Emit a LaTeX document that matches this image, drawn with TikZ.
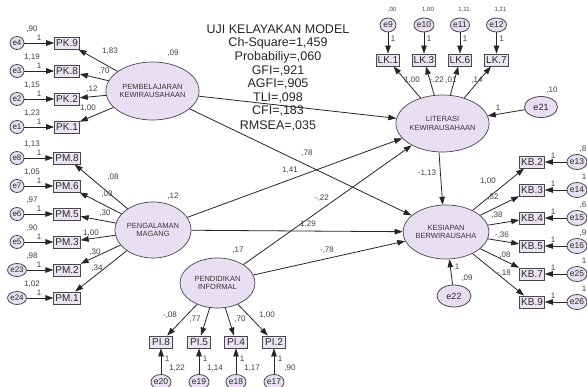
\documentclass[tikz,border=0pt]{standalone}
\usepackage{fontspec}
\setmainfont{Liberation Sans}
\usetikzlibrary{shapes.geometric,arrows.meta}
\definecolor{latfill}{RGB}{232,224,242}
\definecolor{obsfill}{RGB}{236,228,242}
\definecolor{edgecol}{RGB}{70,70,80}
\begin{document}
\begin{tikzpicture}[x=1pt,y=-1pt,
 lat/.style={ellipse, draw=edgecol, fill=latfill, line width=0.7pt, inner sep=0pt, align=center, font=\fontsize{7.5}{8.5}\selectfont, text=black!80},
 obs/.style={rectangle, draw=edgecol, fill=obsfill, line width=0.9pt, minimum width=23pt, minimum height=12pt, inner xsep=1.5pt, inner ysep=0pt, font=\fontsize{10}{10}\selectfont, text=black!85},
 err/.style={ellipse, draw=edgecol, fill=latfill, line width=0.8pt, inner sep=0pt, font=\fontsize{8.5}{9}\selectfont, text=black!85},
 lbl/.style={font=\fontsize{8}{8}\selectfont, text=black!75, inner sep=0pt},
 arr/.style={-{Triangle[length=8pt,width=5.5pt]}, line width=0.8pt, draw=black!85},
 stat/.style={font=\fontsize{12.5}{13}\selectfont, text=black!85, inner sep=0pt}
]
\useasboundingbox (0,0) rectangle (587,387);
\fill[white] (0,0) rectangle (587,387);
\clip (0,0) rectangle (587,387);

% statistics
\node[stat] (s1) at (278,29) {UJI KELAYAKAN MODEL};
\node[stat] (s2) at (278,43) {Ch-Square=1,459};
\node[stat] (s3) at (278,57) {Probabiliy=,060};
\node[stat] (s4) at (278,71) {GFI=,921};
\node[stat] (s5) at (278,84) {AGFI=,905};
\node[stat] (s6) at (278,98) {TLI=,098};
\node[stat] (s7) at (278,111) {CFI=,183};
\node[stat] (s8) at (278,126) {RMSEA=,035};

% latent variables
\node[lat, minimum width=75pt, minimum height=58pt] (PEMB) at (152.5,91) {PEMBELAJARAN\\KEWIRAUSAHAAN};
\node[lat, minimum width=76pt, minimum height=56pt] (PENG) at (153,230) {PENGALAMAN\\MAGANG};
\node[lat, minimum width=75pt, minimum height=50pt] (PEND) at (217.5,283) {PENDIDIKAN\\INFORMAL};
\node[lat, minimum width=75pt, minimum height=57pt] (LIT) at (442.5,123.5) {LITERASI\\KEWIRAUSAHAAN};
\node[lat, minimum width=76pt, minimum height=54pt] (KES) at (446,232) {KESIAPAN\\BERWIRAUSAHA};
\node[err, minimum width=33pt, minimum height=21pt, font=\fontsize{9}{9}\selectfont] (e21) at (541,107) {e21};
\node[err, minimum width=34pt, minimum height=22pt, font=\fontsize{9}{9}\selectfont] (e22) at (454,296) {e22};

\node[lbl] at (173,53) {,09};
\node[lbl] at (173,196) {,12};
\node[lbl] at (238,250) {,17};
\node[lbl] at (552,90) {,10};
\node[lbl] at (498,108) {1};
\node[lbl] at (467,278) {,09};
\node[lbl] at (457,267) {1};

% PK indicators
\foreach \n/\t/\e/\y/\v in {PK9/PK.9/e4/43/{,90},PK8/PK.8/e3/71/{1,19},PK2/PK.2/e2/99/{1,15},PK1/PK.1/e1/127/{1,23}}{
  \node[obs] (\n) at (67,\y) {\t};
  \node[err, minimum width=14pt, minimum height=13pt, font=\fontsize{8}{8}\selectfont] (\e) at (17,\y) {\e};
  \draw[arr] (\e) -- (\n);
  \draw[arr] (PEMB) -- (\n);
  \node[lbl] at (39,\y-5) {1};
  \node[lbl] at (32,\y-14) {\v};
}
\node[lbl] at (110,51) {1,83};
\node[lbl] at (104,71) {,70};
\node[lbl] at (92,89) {,12};
\node[lbl] at (88,108) {1,00};

% PM indicators
\foreach \n/\t/\e/\y/\v in {PM8/PM.8/e8/158/{1,13},PM6/PM.6/e7/186/{1,05},PM5/PM.5/e6/214/{,97},PM3/PM.3/e5/242/{,90},PM2/PM.2/e23/270/{,98},PM1/PM.1/e24/298/{1,02}}{
  \node[obs] (\n) at (67,\y) {\t};
  \node[err, minimum width=14pt, minimum height=13pt, font=\fontsize{8}{8}\selectfont] (\e) at (17,\y) {\e};
  \draw[arr] (\e) -- (\n);
  \draw[arr] (PENG) -- (\n);
  \node[lbl] at (39,\y-5) {1};
  \node[lbl] at (32,\y-14) {\v};
}
\node[lbl] at (113,177) {,08};
\node[lbl] at (107,194) {,03};
\node[lbl] at (105,213) {,30};
\node[lbl] at (91,233) {1,00};
\node[lbl] at (95,252) {,30};
\node[lbl] at (97,268) {,34};

% PI indicators
\foreach \n/\t/\e/\x/\v in {PI8/PI.8/e20/161/{1,22},PI5/PI.5/e19/199/{1,14},PI4/PI.4/e18/236/{1,17},PI2/PI.2/e17/274/{,90}}{
  \node[obs] (\n) at (\x,342) {\t};
  \node[err, minimum width=17pt, minimum height=15pt] (\e) at (\x,382) {\e};
  \draw[arr] (\e) -- (\n);
  \draw[arr] (PEND) -- (\n);
  \node[lbl] at (\x+6,359) {1};
  \node[lbl] at (\x+16,368) {\v};
}
\node[lbl] at (170,315) {-,08};
\node[lbl] at (195,319) {,77};
\node[lbl] at (240,319) {,70};
\node[lbl] at (267,315) {1,00};

% LK indicators
\foreach \n/\t/\e/\x/\v in {LK1/LK.1/e9/388/{,00},LK3/LK.3/e10/424/{1,00},LK6/LK.6/e11/460/{1,11},LK7/LK.7/e12/496.5/{1,21}}{
  \node[obs] (\n) at (\x,60) {\t};
  \node[err, minimum width=16pt, minimum height=14pt] (\e) at (\x,25) {\e};
  \draw[arr] (\e) -- (\n);
  \draw[arr] (LIT) -- (\n);
  \node[lbl] at (\x+5,39) {1};
  \node[lbl, font=\fontsize{6}{6}\selectfont] at (\x+4,9.5) {\v};
}
\node[lbl] at (412,80) {1,00};
\node[lbl] at (437,80) {-,22};
\node[lbl] at (451,80) {,01};
\node[lbl] at (477,80) {,14};

% KB indicators
\foreach \n/\t/\e/\y/\v in {KB2/KB.2/e13/162/{,8},KB3/KB.3/e14/190/{1},KB4/KB.4/e15/218/{,6},KB5/KB.5/e16/246/{,9},KB7/KB.7/e25/274/{1},KB9/KB.9/e26/302/{1}}{
  \node[obs] (\n) at (532,\y) {\t};
  \node[err, minimum width=17pt, minimum height=15pt] (\e) at (577,\y) {\e};
  \draw[arr] (\e) -- (\n);
  \draw[arr] (KES) -- (\n);
  \node[lbl] at (553,\y-6) {1};
  \node[lbl, anchor=east] at (586.5,\y-13) {\v};
}
\node[lbl] at (488,181) {1,00};
\node[lbl] at (493,197) {,52};
\node[lbl] at (497,215) {,38};
\node[lbl] at (502,235) {-,36};
\node[lbl] at (505,255) {,08};
\node[lbl] at (504,273) {-,18};

% structural paths
\draw[arr] (PEMB) -- (LIT);
\draw[arr] (PEMB) -- (KES);
\draw[arr] (PENG) -- (LIT);
\draw[arr] (PENG) -- (KES);
\draw[arr] (PEND) -- (LIT);
\draw[arr] (PEND) -- (KES);
\draw[arr] (LIT.263) -- (KES.97);
\draw[arr] (e21) -- (LIT);
\draw[arr] (e22) -- (KES);

\node[lbl] at (307,153) {,78};
\node[lbl] at (290,170) {1,41};
\node[lbl] at (308,224) {1,29};
\node[lbl] at (322,198) {-,22};
\node[lbl] at (327,250) {-,78};
\node[lbl] at (427,173) {-1,13};
\end{tikzpicture}
\end{document}
